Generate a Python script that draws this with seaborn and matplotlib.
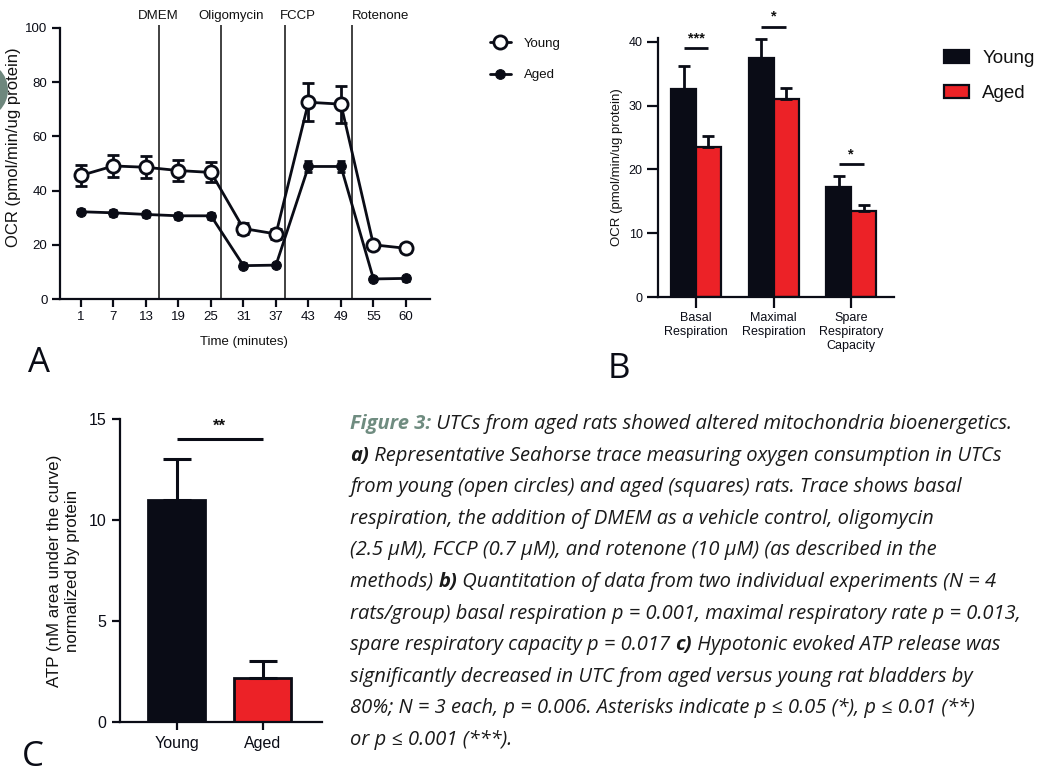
import numpy as np
import pandas as pd
import matplotlib
matplotlib.use("Agg")
import matplotlib.pyplot as plt
import seaborn as sns
from matplotlib.patches import Circle
from matplotlib.transforms import IdentityTransform

# ---------------- data ----------------
time_labels = ["1", "7", "13", "19", "25", "31", "37", "43", "49", "55", "60"]
young_ocr = [45.6, 49.1, 48.6, 47.4, 46.7, 26.0, 24.0, 72.6, 71.9, 20.0, 18.7]
young_err = [3.9, 4.0, 4.0, 3.8, 3.7, 2.0, 2.0, 7.0, 6.8, 1.0, 1.5]
aged_ocr = [32.2, 31.8, 31.2, 30.7, 30.7, 12.3, 12.5, 48.9, 48.9, 7.4, 7.6]
aged_err = [1.0, 1.0, 1.0, 1.0, 1.0, 0.8, 0.8, 2.0, 2.0, 0.8, 0.8]
injections = ["DMEM", "Oligomycin", "FCCP", "Rotenone"]
injection_x = [2.40, 4.31, 6.28, 8.33]

resp_categories = ["Basal\nRespiration", "Maximal\nRespiration", "Spare\nRespiratory\nCapacity"]
resp_young = [32.6, 37.4, 17.3]
resp_young_err = [3.6, 3.1, 1.7]
resp_aged = [23.5, 31.0, 13.5]
resp_aged_err = [1.7, 1.7, 1.0]
resp_sig = ["***", "*", "*"]
resp_sig_y = [39.0, 42.4, 20.9]

atp_groups = ["Young", "Aged"]
atp_values = [11.0, 2.2]
atp_err = [2.0, 0.8]
atp_sig = "**"
atp_sig_y = 14.0

caption_lines = [
    [("Figure 3:", "fig"), (" UTCs from aged rats showed altered mitochondria bioenergetics.", "n")],
    [("a)", "b"), (" Representative Seahorse trace measuring oxygen consumption in UTCs", "n")],
    [("from young (open circles) and aged (squares) rats. Trace shows basal", "n")],
    [("respiration, the addition of DMEM as a vehicle control, oligomycin", "n")],
    [("(2.5 \u00b5M), FCCP (0.7 \u00b5M), and rotenone (10 \u00b5M) (as described in the", "n")],
    [("methods) ", "n"), ("b)", "b"), (" Quantitation of data from two individual experiments (N = 4", "n")],
    [("rats/group) basal respiration p = 0.001, maximal respiratory rate p = 0.013,", "n")],
    [("spare respiratory capacity p = 0.017 ", "n"), ("c)", "b"), (" Hypotonic evoked ATP release was", "n")],
    [("significantly decreased in UTC from aged versus young rat bladders by", "n")],
    [("80%; N = 3 each, p = 0.006. Asterisks indicate p \u2264 0.05 (*), p \u2264 0.01 (**)", "n")],
    [("or p \u2264 0.001 (***).", "n")],
]

# ---------------- style ----------------
sns.set_theme(style="ticks")
plt.rcParams["font.family"] = ["Liberation Sans", "DejaVu Sans"]
INK = "#0a0c16"
RED = "#ec2227"
plt.rcParams.update({
    "axes.edgecolor": INK, "axes.linewidth": 1.6,
    "xtick.color": INK, "ytick.color": INK,
    "xtick.major.width": 1.6, "ytick.major.width": 1.6,
    "xtick.major.size": 6, "ytick.major.size": 6,
    "text.color": "#111111", "axes.labelcolor": "#111111",
})

W, H = 1043, 774
fig = plt.figure(figsize=(W / 100, H / 100), dpi=100)


def rect(l, t, r, b):
    return [l / W, 1 - b / H, (r - l) / W, (b - t) / H]


# ---------------- panel A ----------------
axA = fig.add_axes(rect(60, 28, 430, 299))
pos = np.arange(len(time_labels))
dfA = pd.DataFrame({"pos": pos, "Young": young_ocr, "Aged": aged_ocr})
axA.errorbar(pos, young_ocr, yerr=young_err, fmt="none", ecolor=INK, elinewidth=2,
             capsize=4, capthick=2, zorder=2)
axA.errorbar(pos, aged_ocr, yerr=aged_err, fmt="none", ecolor=INK, elinewidth=2,
             capsize=3, capthick=2, zorder=2)
sns.lineplot(data=dfA, x="pos", y="Young", ax=axA, color=INK, lw=2, marker="o",
             ms=9.5, mfc="white", mec=INK, mew=2, label="Young", zorder=4)
sns.lineplot(data=dfA, x="pos", y="Aged", ax=axA, color=INK, lw=2, marker="o",
             ms=7, mfc=INK, mec=INK, label="Aged", zorder=4)
axA.set_xlim(-0.646, 10.74)
axA.set_ylim(0, 100)
axA.set_xticks(pos)
axA.set_xticklabels(time_labels)
axA.set_yticks([0, 20, 40, 60, 80, 100])
axA.tick_params(labelsize=9.5, pad=3)
axA.set_xlabel("Time (minutes)", fontsize=9.5)
axA.set_ylabel("OCR (pmol/min/ug protein)", fontsize=12)
axA.xaxis.set_label_coords(0.497, -0.135)
axA.yaxis.set_label_coords(-0.105, 0.56)
sns.despine(ax=axA)
axA.vlines(injection_x, 0, 101.2, colors="#333333", lw=1.3, clip_on=False, zorder=1)
label_x = [2.37, 4.63, 6.68, 9.23]
for lx, name in zip(label_x, injections):
    axA.text(lx, 104.3, name, ha="center", va="center", fontsize=9.5, clip_on=False)
hA, lA = axA.get_legend_handles_labels()
axA.legend(hA, lA, loc="upper left", bbox_to_anchor=(478 / W, 1 - 26 / H),
           bbox_transform=fig.transFigure, frameon=False, fontsize=9.5,
           handlelength=1.6, labelspacing=1.45, handletextpad=1.0)

# ---------------- panel B ----------------
axB = fig.add_axes(rect(658, 38, 894, 297))
dfB = pd.DataFrame({
    "category": resp_categories * 2,
    "group": ["Young"] * 3 + ["Aged"] * 3,
    "value": resp_young + resp_aged,
})
sns.barplot(data=dfB, x="category", y="value", hue="group", palette={"Young": INK, "Aged": RED},
            edgecolor=INK, linewidth=1.6, width=0.64, errorbar=None, ax=axB, saturation=1)
bar_conts_B = list(axB.containers)
for cont, errs in zip(bar_conts_B, [resp_young_err, resp_aged_err]):
    for bar, e in zip(cont, errs):
        cx = bar.get_x() + bar.get_width() / 2
        axB.errorbar(cx, bar.get_height(), yerr=[[0], [e]], fmt="none", ecolor=INK,
                     elinewidth=2, capsize=4.5, capthick=2, zorder=1)
centers_B = [[b.get_x() + b.get_width() / 2 for b in c] for c in bar_conts_B]
for i, (s, sy) in enumerate(zip(resp_sig, resp_sig_y)):
    x0, x1 = centers_B[0][i], centers_B[1][i]
    axB.plot([x0, x1], [sy, sy], color=INK, lw=2, solid_capstyle="butt", clip_on=False)
    axB.text((x0 + x1) / 2, sy + 0.4, s, ha="center", va="bottom", fontsize=10.5,
             fontweight="bold", clip_on=False)
axB.set_xlim(-0.49, 2.55)
axB.set_ylim(0, 40.6)
axB.set_yticks([0, 10, 20, 30, 40])
axB.tick_params(labelsize=9, pad=3)
axB.tick_params(axis="x", length=8)
axB.tick_params(axis="y", length=8)
axB.set_xlabel("")
axB.set_ylabel("OCR (pmol/min/ug protein)", fontsize=9.5)
axB.yaxis.set_label_coords(-0.148, 0.5)
sns.despine(ax=axB)
hB, lB = axB.get_legend_handles_labels()
axB.legend(hB, lB, loc="upper left", bbox_to_anchor=(927 / W, 1 - 33 / H),
           bbox_transform=fig.transFigure, frameon=False, fontsize=13.5,
           handlelength=1.35, handleheight=0.7, labelspacing=0.95, handletextpad=0.7)

# ---------------- panel C ----------------
axC = fig.add_axes(rect(120, 419, 322, 722))
sns.barplot(x=atp_groups, y=atp_values, hue=atp_groups, palette={"Young": INK, "Aged": RED},
            edgecolor=INK, linewidth=2, width=0.66, legend=False, ax=axC, saturation=1)
bar_conts_C = list(axC.containers)
for cont, e in zip(bar_conts_C, atp_err):
    for bar in cont:
        cx = bar.get_x() + bar.get_width() / 2
        axC.errorbar(cx, bar.get_height(), yerr=[[0], [e]], fmt="none", ecolor=INK,
                     elinewidth=2.2, capsize=10, capthick=2.2, zorder=1)
axC.plot([0, 1], [atp_sig_y, atp_sig_y], color=INK, lw=2.2, solid_capstyle="butt")
axC.text(0.5, atp_sig_y + 0.25, atp_sig, ha="center", va="bottom", fontsize=12, fontweight="bold")
axC.set_xlim(-0.66, 1.69)
axC.set_ylim(0, 15)
axC.set_yticks([0, 5, 10, 15])
axC.tick_params(labelsize=11.5, pad=4)
axC.set_ylabel("ATP (nM area under the curve)\nnormalized by protein", fontsize=12.2,
               linespacing=1.2)
axC.yaxis.set_label_coords(-0.2, 0.5)
sns.despine(ax=axC)

# ---------------- panel letters ----------------
for lx, ly, letter in [(28, 372, "A"), (608, 378, "B"), (22, 766, "C")]:
    fig.text(lx / W, 1 - ly / H, letter, fontsize=25, va="baseline", ha="left",
             family=["Open Sans", "DejaVu Sans"], color="#0a0c16")

# decorative circle at left edge
fig.add_artist(Circle((-21, H - 90), 29, transform=IdentityTransform(),
                      color="#6e877d", lw=0))

# ---------------- caption ----------------
renderer = fig.canvas.get_renderer()
cap_font = ["Open Sans", "DejaVu Sans"]
styles = {
    "n": dict(style="italic", color="#1a1a1a"),
    "b": dict(style="italic", weight="bold", color="#1a1a1a"),
    "fig": dict(style="italic", weight="bold", color="#6f8c80"),
}
x0 = 350
for i, parts in enumerate(caption_lines):
    x = x0
    y = 429 + 31.6 * i
    for txt, st in parts:
        t = fig.text(x / W, 1 - y / H, txt, fontsize=14.5, va="baseline", ha="left",
                     family=cap_font, **styles[st])
        bb = t.get_window_extent(renderer)
        x = bb.x1

fig.savefig("out.png", dpi=100)
